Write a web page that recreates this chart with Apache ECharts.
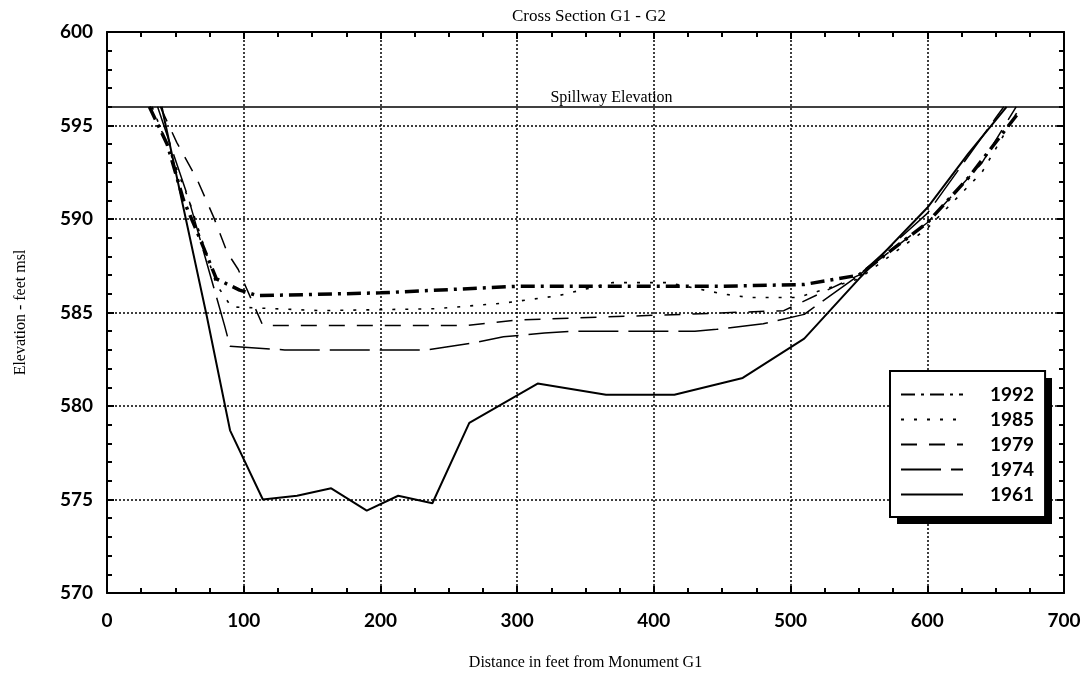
<!DOCTYPE html>
<html>
<head>
<meta charset="utf-8">
<script src="https://cdn.jsdelivr.net/npm/echarts@6/dist/echarts.min.js"></script>
<style>html,body{margin:0;padding:0;background:#fff;}#c{width:1088px;height:674px;}</style>
</head>
<body>
<div id="c"></div>
<script>
// ---- data (feet from monument G1, elevation ft msl) ----
const years = ['1992', '1985', '1979', '1974', '1961'];
const s1992 = [[31,596],[44,594],[56,591],[66,589.3],[80,586.8],[97,586.2],[110,585.9],[200,586.05],[300,586.4],[400,586.4],[450,586.4],[510,586.5],[550,587],[600,589.8],[630,592.2],[668,595.8]];
const s1985 = [[33,596],[60,591],[80,586.5],[91,585.3],[156,585.1],[240,585.2],[290,585.5],[330,585.9],[370,586.6],[410,586.6],[450,586.0],[470,585.8],[505,585.8],[550,586.8],[600,589.5],[640,592.5],[668,596]];
const s1979 = [[39,596],[51,594.1],[66,592.1],[78,590.1],[88,588.2],[96,587.3],[108,585.3],[114,584.3],[200,584.3],[263,584.3],[300,584.6],[380,584.8],[420,584.9],[495,585.1],[550,587],[600,589.8],[640,593],[665,596]];
const s1974 = [[37,596],[60,591],[86,584.3],[90,583.2],[130,583.0],[234,583.0],[270,583.4],[290,583.7],[320,583.9],[340,584.0],[430,584.0],[446,584.1],[480,584.4],[510,584.9],[550,587],[600,590.3],[650,595.4],[656,596]];
const s1961 = [[40,596],[73,584.8],[90,578.7],[114,575.0],[139,575.2],[164,575.6],[190,574.4],[213,575.2],[238,574.8],[265,579.1],[315,581.2],[365,580.6],[415,580.6],[465,581.5],[510,583.6],[550,586.8],[600,590.6],[630,593.5],[658,596]];
const spillway = 596;
const xTicks = [0, 100, 200, 300, 400, 500, 600, 700];
const yTicks = [570, 575, 580, 585, 590, 595, 600];

const serif = '"Liberation Serif", "DejaVu Serif", serif';
const numFont = 'Lato, "Noto Sans", sans-serif';
const chart = echarts.init(document.getElementById('c'), null, {renderer: 'canvas'});

const styles = {
  '1992': {width: 3.5, type: [14, 6, 3, 6]},
  '1985': {width: 1.6, type: [3, 10]},
  '1979': {width: 1.5, type: [16, 12]},
  '1974': {width: 1.5, type: [40, 10]},
  '1961': {width: 2, type: 'solid'}
};
const dataMap = {'1992': s1992, '1985': s1985, '1979': s1979, '1974': s1974, '1961': s1961};

const series = years.map(y => ({
  name: y, type: 'line', data: dataMap[y], symbol: 'none', showSymbol: false,
  lineStyle: Object.assign({color: '#000'}, styles[y]),
  itemStyle: {color: '#000'},
  clip: true, z: 3
}));
series[4].markLine = {
  silent: true, symbol: 'none',
  lineStyle: {color: '#000', type: 'solid', width: 1.6},
  label: {show: true, position: 'insideMiddleTop', formatter: 'Spillway Elevation',
          color: '#000', fontFamily: serif, fontSize: 16, distance: 1, padding: [0, 0, 0, 52]},
  data: [{yAxis: spillway}]
};

const axisCommon = {
  axisLine: {show: true, onZero: false, lineStyle: {color: '#000', width: 2}},
  axisTick: {show: true, inside: true, length: 7, lineStyle: {color: '#000', width: 2}},
  minorTick: {show: true, length: 5, lineStyle: {color: '#000', width: 2}}
};

chart.setOption({
  backgroundColor: '#fff',
  animation: false,
  title: {text: 'Cross Section G1 - G2', left: 584, textAlign: 'center', top: 3,
          textStyle: {fontFamily: serif, fontSize: 17, fontWeight: 'normal', color: '#000'}},
  grid: {left: 107, right: 24, top: 32, bottom: 81, containLabel: false, outerBoundsMode: 'none'},
  graphic: [{
    type: 'rect', z: 3, silent: true,
    shape: {x: 897, y: 378, width: 155, height: 146},
    style: {fill: '#000'}
  }],
  legend: {
    orient: 'vertical', left: 890, top: 371, z: 6,
    data: years,
    itemWidth: 62, itemHeight: 16, itemGap: 6,
    padding: [14, 11, 13, 10],
    backgroundColor: '#fff', borderColor: '#000', borderWidth: 2, borderRadius: 0,
    itemStyle: {opacity: 0},
    textStyle: {fontFamily: numFont, fontSize: 19, fontWeight: 'bold', color: '#000',
                padding: [0, 0, 0, 22]},
    selectedMode: false
  },
  xAxis: [
    Object.assign({}, axisCommon, {
      type: 'value', min: 0, max: 700, interval: 100, position: 'bottom',
      minorTick: Object.assign({}, axisCommon.minorTick, {splitNumber: 4}),
      axisLabel: {color: '#000', fontFamily: numFont, fontSize: 19, fontWeight: 'bold', margin: 18,
                  formatter: v => xTicks.indexOf(v) >= 0 ? String(v) : ''},
      splitLine: {show: true, lineStyle: {color: '#000', type: [2, 2], width: 1.5}},
      name: 'Distance in feet from Monument G1', nameLocation: 'middle', nameGap: 62,
      nameTextStyle: {fontFamily: serif, fontSize: 16, color: '#000'}
    }),
    Object.assign({}, axisCommon, {
      type: 'value', min: 0, max: 700, interval: 100, position: 'top',
      minorTick: Object.assign({}, axisCommon.minorTick, {splitNumber: 4}),
      axisLabel: {show: false}, splitLine: {show: false}
    })
  ],
  yAxis: [
    Object.assign({}, axisCommon, {
      type: 'value', min: 570, max: 600, interval: 5, position: 'left',
      minorTick: Object.assign({}, axisCommon.minorTick, {splitNumber: 5}),
      axisLabel: {color: '#000', fontFamily: numFont, fontSize: 19, fontWeight: 'bold', margin: 14,
                  formatter: v => yTicks.indexOf(v) >= 0 ? String(v) : ''},
      splitLine: {show: true, lineStyle: {color: '#000', type: [2, 2], width: 1.5}},
      name: 'Elevation - feet msl', nameLocation: 'middle', nameGap: 78, nameRotate: 90,
      nameTextStyle: {fontFamily: serif, fontSize: 16, color: '#000'}
    }),
    Object.assign({}, axisCommon, {
      type: 'value', min: 570, max: 600, interval: 5, position: 'right',
      minorTick: Object.assign({}, axisCommon.minorTick, {splitNumber: 5}),
      axisLabel: {show: false}, splitLine: {show: false}
    })
  ],
  series: series
});
</script>
</body>
</html>
